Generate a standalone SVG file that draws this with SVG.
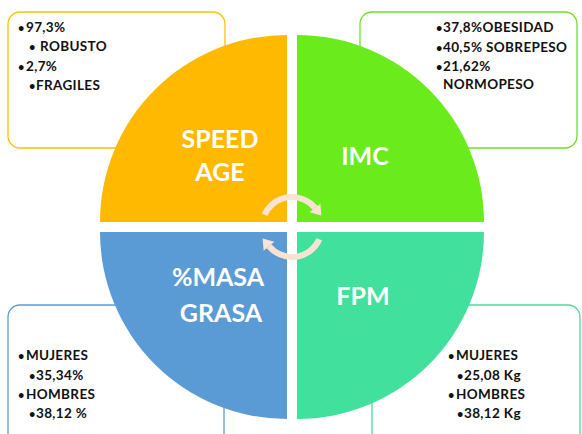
<svg xmlns="http://www.w3.org/2000/svg" width="582" height="434" viewBox="0 0 582 434">
<style>
.box{fill:#fff;stroke-width:1.3}
.t{font-family:Lato,"Liberation Sans",sans-serif;font-weight:bold;font-size:13.5px;letter-spacing:0.35px;fill:#111}
.b{font-family:Lato,"Liberation Sans",sans-serif;font-weight:bold;font-size:11px;fill:#111}
.big{font-family:Lato,"Liberation Sans",sans-serif;font-weight:bold;font-size:25px;fill:#fff;text-anchor:middle}
.arc{fill:none;stroke:#FBE3D3;stroke-width:6}
.head{fill:#FBE3D3}
</style>
<rect width="582" height="434" fill="#fff"/>
<g id="box-speed">
<rect class="box" x="8" y="12" width="217" height="136" rx="12" stroke="#FFC000"/>
<text class="b" x="18" y="32">•</text><text class="t" x="26" y="32">97,3%</text>
<text class="b" x="29" y="51">•</text><text class="t" x="40" y="51">ROBUSTO</text>
<text class="b" x="18" y="71">•</text><text class="t" x="26" y="71">2,7%</text>
<text class="b" x="29" y="90">•</text><text class="t" x="36" y="90">FRAGILES</text>
</g>
<g id="box-imc">
<rect class="box" x="360" y="12" width="217" height="136" rx="12" stroke="#6EE02A"/>
<text class="b" x="436" y="32">•</text><text class="t" x="443" y="32">37,8%OBESIDAD</text>
<text class="b" x="436" y="52">•</text><text class="t" x="443" y="52">40,5% SOBREPESO</text>
<text class="b" x="436" y="71">•</text><text class="t" x="443" y="71">21,62%</text>
<text class="t" x="443" y="89">NORMOPESO</text>
</g>
<g id="box-masa">
<rect class="box" x="8" y="305" width="216" height="150" rx="12" stroke="#5B9BD5"/>
<text class="b" x="18" y="360">•</text><text class="t" x="26" y="360">MUJERES</text>
<text class="b" x="29" y="380">•</text><text class="t" x="36" y="380">35,34%</text>
<text class="b" x="18" y="399">•</text><text class="t" x="26" y="399">HOMBRES</text>
<text class="b" x="29" y="418">•</text><text class="t" x="36" y="418">38,12 %</text>
</g>
<g id="box-fpm">
<rect class="box" x="372" y="305" width="208" height="150" rx="12" stroke="#41E09C"/>
<text class="b" x="448" y="360">•</text><text class="t" x="456" y="360">MUJERES</text>
<text class="b" x="457" y="380">•</text><text class="t" x="464" y="380">25,08 Kg</text>
<text class="b" x="448" y="399">•</text><text class="t" x="456" y="399">HOMBRES</text>
<text class="b" x="457" y="418">•</text><text class="t" x="464" y="418">38,12 Kg</text>
</g>
<g id="q-speed">
<path d="M287,222 L100,222 A187,187 0 0 1 287,35 Z" fill="#FFB900"/>
<text class="big" x="220" y="148">SPEED</text>
<text class="big" x="220" y="181">AGE</text>
</g>
<g id="q-imc">
<path d="M297,222 L297,35 A187,187 0 0 1 484,222 Z" fill="#6AEB1C"/>
<text class="big" x="365" y="165">IMC</text>
</g>
<g id="q-masa">
<path d="M287,232 L287,419 A187,187 0 0 1 100,232 Z" fill="#5B9BD5"/>
<text class="big" x="218" y="286">%MASA</text>
<text class="big" x="221" y="322">GRASA</text>
</g>
<g id="q-fpm">
<path d="M297,232 L484,232 A187,187 0 0 1 297,419 Z" fill="#41E09C"/>
<text class="big" x="363" y="305">FPM</text>
</g>
<g id="connectors">
<path class="arc" d="M264.6,214.8 A30,30 0 0 1 314.98,207.72"/>
<polygon class="head" points="320.34,203.22 309.62,212.22 321.41,215.38"/>
<path class="arc" d="M319.4,239.2 A30,30 0 0 1 269.02,246.28"/>
<polygon class="head" points="263.66,250.78 274.38,241.78 262.59,238.62"/>
</g>
</svg>
